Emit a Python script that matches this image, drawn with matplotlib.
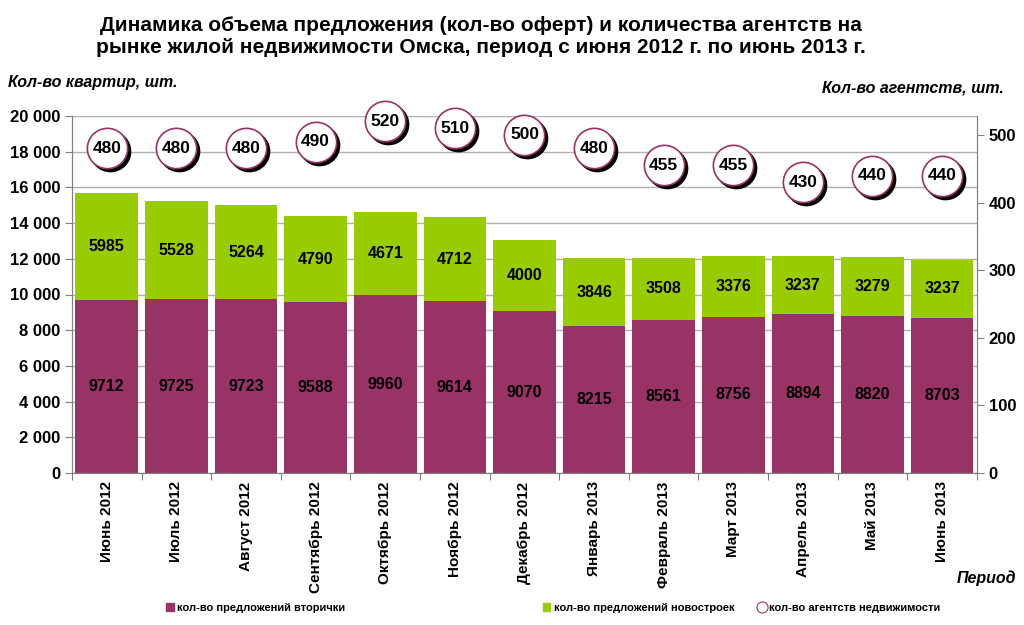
import matplotlib
matplotlib.use("Agg")
import matplotlib.pyplot as plt
import matplotlib.transforms as mtransforms
from matplotlib.ticker import FuncFormatter, MultipleLocator
from matplotlib.lines import Line2D
from matplotlib.patches import Patch

plt.rcParams['font.family'] = ['Liberation Sans', 'DejaVu Sans']

# данные
months = ['Июнь 2012', 'Июль 2012', 'Август 2012', 'Сентябрь 2012', 'Октябрь 2012',
          'Ноябрь 2012', 'Декабрь 2012', 'Январь 2013', 'Февраль 2013', 'Март 2013',
          'Апрель 2013', 'Май 2013', 'Июнь 2013']
secondary = [9712, 9725, 9723, 9588, 9960, 9614, 9070, 8215, 8561, 8756, 8894, 8820, 8703]
newbuild = [5985, 5528, 5264, 4790, 4671, 4712, 4000, 3846, 3508, 3376, 3237, 3279, 3237]
agencies = [480, 480, 480, 490, 520, 510, 500, 480, 455, 455, 430, 440, 440]

purple = '#993366'
green = '#99CC00'

fig = plt.figure(figsize=(10.24, 6.25), dpi=100)
ax = fig.add_axes([0.0703, 0.2432, 0.8837, 0.5712])
x = list(range(len(months)))

ax.bar(x, secondary, width=0.9, color=purple, zorder=2)
ax.bar(x, newbuild, width=0.9, bottom=secondary, color=green, zorder=2)

for i in x:
    ax.text(i, secondary[i] / 2, str(secondary[i]), ha='center', va='center',
            fontsize=11.5, fontweight='bold', zorder=3)
    ax.text(i, secondary[i] + newbuild[i] / 2, str(newbuild[i]), ha='center', va='center',
            fontsize=11.5, fontweight='bold', zorder=3)

ax.set_xlim(-0.5, len(months) - 0.5)
ax.set_ylim(0, 20000)
ax.yaxis.set_major_locator(MultipleLocator(2000))
ax.yaxis.set_major_formatter(FuncFormatter(lambda v, p: '{:,.0f}'.format(v).replace(',', ' ')))
ax.grid(axis='y', color='#b0b0b0', linewidth=1, zorder=0)
ax.set_axisbelow(True)
ax.set_xticks([i - 0.5 for i in range(len(months) + 1)], minor=False)
ax.set_xticklabels([])
ax.set_xticks(x, minor=True)
ax.set_xticklabels(months, minor=True, rotation=90, fontsize=11, fontweight='bold')
ax.tick_params(axis='x', which='minor', length=0, pad=6)
ax.tick_params(axis='x', which='major', length=5, color='#808080')
ax.tick_params(axis='y', length=5, color='#808080', labelsize=12)
for lbl in ax.get_yticklabels():
    lbl.set_fontweight('bold')
ax.spines['top'].set_visible(False)
for s in ['left', 'bottom', 'right']:
    ax.spines[s].set_color('#808080')

ax2 = ax.twinx()
ax2.set_ylim(0, 528)
ax2.yaxis.set_major_locator(MultipleLocator(100))
ax2.tick_params(axis='y', length=5, color='#808080', labelsize=12)
for lbl in ax2.get_yticklabels():
    lbl.set_fontweight('bold')
ax2.spines['top'].set_visible(False)
for s in ['left', 'bottom', 'right']:
    ax2.spines[s].set_color('#808080')

shadow = mtransforms.offset_copy(ax2.transData, fig=fig, x=3, y=-3, units='dots')
ax2.plot(x, agencies, 'o', markersize=29, color='black', transform=shadow,
         linestyle='none', zorder=3, clip_on=False)
ax2.plot(x, agencies, 'o', markersize=29, markerfacecolor='white',
         markeredgecolor=purple, markeredgewidth=1.2, linestyle='none', zorder=4, clip_on=False)
for i in x:
    ax2.text(i, agencies[i], str(agencies[i]), ha='center', va='center',
             fontsize=12.5, fontweight='bold', zorder=5)

fig.text(0.47, 0.975, 'Динамика объема предложения (кол-во оферт) и количества агентств на\n'
         'рынке жилой недвижимости Омска, период с июня 2012 г. по июнь 2013 г.',
         ha='center', va='top', fontsize=15, fontweight='bold', linespacing=1.25)
fig.text(0.008, 0.868, 'Кол-во квартир, шт.', ha='left', va='center',
         fontsize=11.5, fontweight='bold', style='italic')
fig.text(0.98, 0.859, 'Кол-во агентств, шт.', ha='right', va='center',
         fontsize=11.5, fontweight='bold', style='italic')
fig.text(0.992, 0.075, 'Период', ha='right', va='center',
         fontsize=11.5, fontweight='bold', style='italic')

handles = [Patch(color=purple), Patch(color=green),
           Line2D([], [], marker='o', linestyle='none', markersize=8,
                  markerfacecolor='white', markeredgecolor=purple, markeredgewidth=0.8)]
labels = ['кол-во предложений вторички', 'кол-во предложений новостроек',
          'кол-во агентств недвижимости']
xpos = [0.162, 0.530, 0.740]
for h, l, xp in zip(handles, labels, xpos):
    fig.legend([h], [l], loc='center left', bbox_to_anchor=(xp, 0.027),
               frameon=False, prop={'weight': 'bold', 'size': 8},
               handlelength=0.7, handleheight=0.7, handletextpad=0.3,
               borderaxespad=0, borderpad=0)

fig.savefig('out.png', dpi=100)
